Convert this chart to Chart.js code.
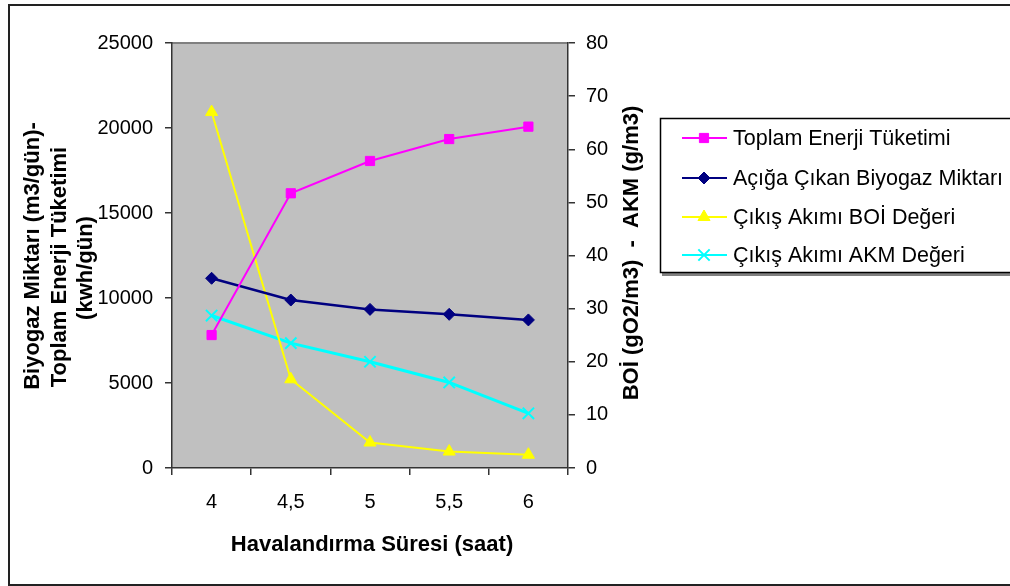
<!DOCTYPE html>
<html>
<head>
<meta charset="utf-8">
<script src="https://cdn.jsdelivr.net/npm/chart.js@4.4.0/dist/chart.umd.min.js"></script>
<style>
body { margin: 0; background: #fff; }
#wrap { width: 1010px; height: 586px; }
</style>
</head>
<body>
<div id="wrap"><canvas id="grafik" width="1010" height="586"></canvas></div>
<script>
// havalandirma suresi (saat)
const sureler = ['4', '4,5', '5', '5,5', '6'];
// sol eksen (kwh/gun, m3/gun)
const enerji = [7820, 16160, 18060, 19350, 20080];
const biyogaz = [11160, 9880, 9330, 9040, 8710];
// sag eksen (g/m3)
const boi = [67, 16.7, 4.8, 3.1, 2.5];
const akm = [28.7, 23.5, 20.0, 16.1, 10.3];

const etiketler = ['Toplam Enerji Tüketimi', 'Açığa Çıkan Biyogaz Miktarı', 'Çıkış Akımı BOİ Değeri', 'Çıkış Akımı AKM Değeri'];
const solBaslik = ['Biyogaz Miktarı (m3/gün)-', 'Toplam Enerji Tüketimi', '(kwh/gün)'];
const sagBaslik = 'BOİ (gO2/m3)  -  AKM (g/m3)';
const xBaslik = 'Havalandırma Süresi (saat)';

const FONT = '"Liberation Sans", Arial, sans-serif';
Chart.defaults.font.family = FONT;
Chart.defaults.color = '#000';

let cerceve = {
	id: 'cerceve',
	beforeDraw(chart) {
		let ctx = chart.ctx, a = chart.chartArea;
		ctx.save();
		ctx.fillStyle = '#fff';
		ctx.fillRect(0, 0, chart.width, chart.height);
		// dis cerceve
		ctx.strokeStyle = '#222';
		ctx.lineWidth = 2;
		ctx.strokeRect(9, 5, 1010, 580);
		// cizim alani
		ctx.fillStyle = '#c0c0c0';
		ctx.fillRect(a.left, a.top, a.right - a.left, a.bottom - a.top);
		ctx.strokeStyle = '#808080';
		ctx.beginPath();
		ctx.moveTo(a.left, a.top);
		ctx.lineTo(a.right, a.top);
		ctx.stroke();
		ctx.restore();
	},
	afterDraw(chart) {
		let ctx = chart.ctx;
		ctx.save();
		ctx.fillStyle = '#000';
		ctx.font = 'bold 22px ' + FONT;
		ctx.textAlign = 'center';
		ctx.textBaseline = 'middle';
		ctx.fillText(xBaslik, 372, 545);

		let solPos = [[33, 256], [60, 267], [86, 268]];
		for (let i = 0; i < solBaslik.length; i++) {
			ctx.save();
			ctx.translate(solPos[i][0], solPos[i][1]);
			ctx.rotate(-Math.PI / 2);
			ctx.fillText(solBaslik[i], 0, 0);
			ctx.restore();
		}
		ctx.save();
		ctx.translate(632, 253);
		ctx.rotate(-Math.PI / 2);
		ctx.fillText(sagBaslik, 0, 0);
		ctx.restore();

		// lejant
		ctx.fillStyle = '#808080';
		ctx.fillRect(662, 273, 360, 3);
		ctx.strokeStyle = '#000';
		ctx.lineWidth = 1.5;
		ctx.strokeRect(660.5, 118.5, 400, 154);
		ctx.font = '21.5px ' + FONT;
		ctx.textAlign = 'left';
		let satirY = [138, 178, 217, 255];
		chart.data.datasets.forEach(function (ds, i) {
			let y = satirY[i];
			ctx.strokeStyle = ds.borderColor;
			ctx.lineWidth = 2;
			ctx.beginPath();
			ctx.moveTo(682, y);
			ctx.lineTo(727, y);
			ctx.stroke();
			ctx.fillStyle = ds.pointBackgroundColor;
			ctx.strokeStyle = ds.pointBorderColor;
			ctx.lineWidth = ds.pointBorderWidth;
			Chart.helpers.drawPoint(ctx, {
				pointStyle: ds.pointStyle,
				radius: ds.pointRadius,
				rotation: 0,
				borderWidth: ds.pointBorderWidth
			}, 704, y);
			ctx.fillStyle = '#000';
			ctx.fillText(ds.label, 733, y + 1);
		});
		ctx.restore();
	}
};

let eksenCizgi = { display: true, color: '#333', width: 1.5 };
let izgara = { drawOnChartArea: false, color: '#333', lineWidth: 1.5, tickLength: 7 };

new Chart(document.getElementById('grafik'), {
	type: 'line',
	data: {
		labels: sureler,
		datasets: [{
			label: etiketler[0],
			data: enerji,
			yAxisID: 'y',
			borderColor: '#ff00ff',
			borderWidth: 2,
			pointStyle: 'rect',
			pointRadius: 6.5,
			pointBackgroundColor: '#ff00ff',
			pointBorderColor: '#ff00ff',
			pointBorderWidth: 1
		}, {
			label: etiketler[1],
			data: biyogaz,
			yAxisID: 'y',
			borderColor: '#000080',
			borderWidth: 2.5,
			pointStyle: 'rectRot',
			pointRadius: 6,
			pointBackgroundColor: '#000080',
			pointBorderColor: '#000080',
			pointBorderWidth: 1
		}, {
			label: etiketler[2],
			data: boi,
			yAxisID: 'y1',
			borderColor: '#ffff00',
			borderWidth: 2,
			pointStyle: 'triangle',
			pointRadius: 7,
			pointBackgroundColor: '#ffff00',
			pointBorderColor: '#ffff00',
			pointBorderWidth: 1
		}, {
			label: etiketler[3],
			data: akm,
			yAxisID: 'y1',
			borderColor: '#00ffff',
			borderWidth: 3,
			pointStyle: 'crossRot',
			pointRadius: 8,
			pointBackgroundColor: '#00ffff',
			pointBorderColor: '#00ffff',
			pointBorderWidth: 2
		}]
	},
	options: {
		responsive: false,
		animation: false,
		layout: { padding: { left: 95, right: 365, top: 43, bottom: 0 } },
		plugins: {
			legend: { display: false },
			tooltip: { enabled: false }
		},
		elements: { line: { tension: 0 } },
		scales: {
			x: {
				offset: true,
				grid: Object.assign({ offset: true }, izgara),
				border: eksenCizgi,
				ticks: { font: { size: 20 }, padding: 15, maxRotation: 0 },
				afterFit: function (s) { s.height = 118; }
			},
			y: {
				position: 'left',
				min: 0,
				max: 25000,
				ticks: {
					stepSize: 5000,
					font: { size: 20 },
					padding: 12,
					callback: function (v) { return String(v); }
				},
				grid: izgara,
				border: eksenCizgi,
				afterFit: function (s) { s.width = 77; }
			},
			y1: {
				position: 'right',
				min: 0,
				max: 80,
				ticks: { stepSize: 10, font: { size: 20 }, padding: 11 },
				grid: izgara,
				border: eksenCizgi,
				afterFit: function (s) { s.width = 77; }
			}
		}
	},
	plugins: [cerceve]
});
</script>
</body>
</html>
